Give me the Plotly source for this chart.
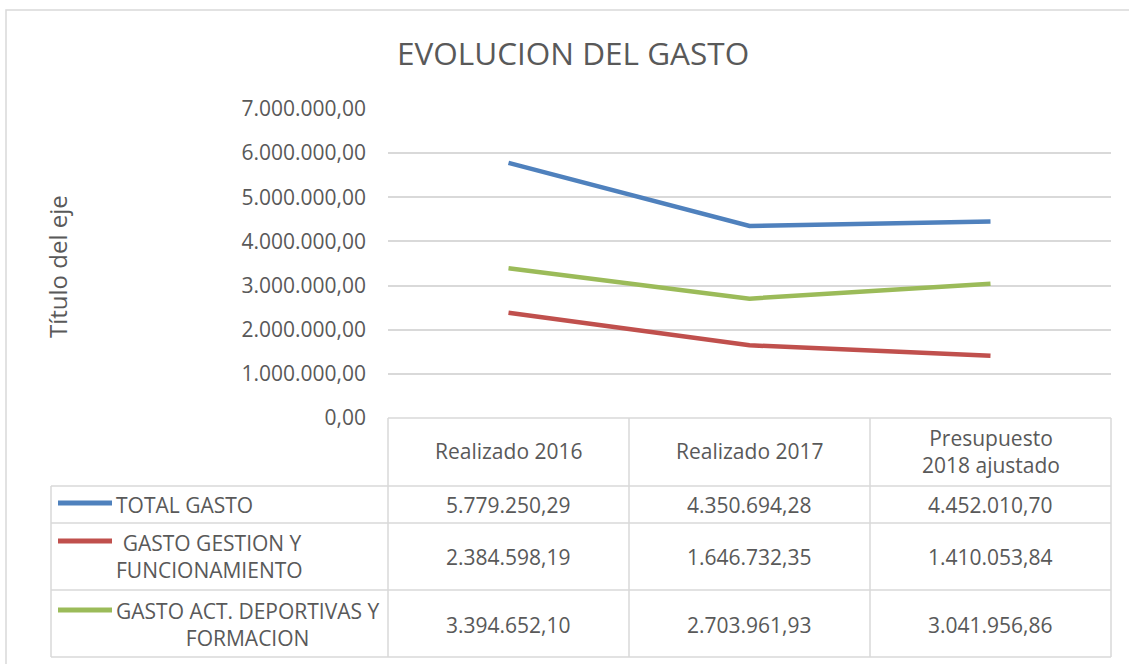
import plotly.graph_objects as go

# ---------------- data ----------------
categories = ["Realizado 2016", "Realizado 2017", "Presupuesto<br>2018 ajustado"]
series_names = ["TOTAL GASTO", " GASTO GESTION Y<br>FUNCIONAMIENTO", "GASTO ACT. DEPORTIVAS Y<br>FORMACION"]
total_gasto = [5779250.29, 4350694.28, 4452010.70]
gasto_gestion = [2384598.19, 1646732.35, 1410053.84]
gasto_deportivas = [3394652.10, 2703961.93, 3041956.86]
series_values = [total_gasto, gasto_gestion, gasto_deportivas]
series_colors = ["#4F81BD", "#C0504D", "#9BBB59"]
y_ticks = [0, 1000000, 2000000, 3000000, 4000000, 5000000, 6000000, 7000000]

# ---------------- helpers ----------------
W, H = 1129, 664
FONT = "Open Sans"
TXT = "#595959"
GRID = "#D9D9D9"


def X(px):
    return px / W


def Y(py):
    return 1 - py / H


def fmt(v):
    s = f"{v:,.2f}"
    return s.replace(",", "X").replace(".", ",").replace("X", ".")


# plot area geometry (pixels)
PL, PR = 388, 1111
PT, PB = 109, 418
col_edges = [388, 629, 870, 1111]
row_edges = [486, 523, 590, 657]
legend_left = 51

fig = go.Figure()
xpos = list(range(len(categories)))
for name, vals, col in zip(series_names, series_values, series_colors):
    fig.add_trace(go.Scatter(
        x=xpos, y=vals, mode="lines", name=name.replace("<br>", " "),
        line=dict(color=col, width=4.5), showlegend=False, hoverinfo="skip"))

shapes = []
annotations = []

# outer chart border
shapes.append(dict(type="rect", xref="paper", yref="paper",
                   x0=X(6), x1=X(1140), y0=Y(675), y1=Y(10),
                   line=dict(color=GRID, width=1.5), fillcolor="rgba(0,0,0,0)", layer="below"))

# table grid
line_style = dict(color=GRID, width=1.5)
for cx in col_edges:
    shapes.append(dict(type="line", xref="paper", yref="paper",
                       x0=X(cx), x1=X(cx), y0=Y(PB), y1=Y(row_edges[-1]), line=line_style))
shapes.append(dict(type="line", xref="paper", yref="paper",
                   x0=X(legend_left), x1=X(legend_left), y0=Y(row_edges[0]), y1=Y(row_edges[-1]),
                   line=line_style))
shapes.append(dict(type="line", xref="paper", yref="paper",
                   x0=X(PL), x1=X(PR), y0=Y(PB), y1=Y(PB), line=line_style))
for ry in row_edges:
    shapes.append(dict(type="line", xref="paper", yref="paper",
                       x0=X(legend_left), x1=X(PR), y0=Y(ry), y1=Y(ry), line=line_style))

# header labels
col_centers = [(col_edges[i] + col_edges[i + 1]) / 2 for i in range(3)]
for cx, cat in zip(col_centers, categories):
    annotations.append(dict(xref="paper", yref="paper", x=X(cx), y=Y((PB + row_edges[0]) / 2 - 1),
                            text=cat, showarrow=False, xanchor="center", yanchor="middle",
                            align="center", font=dict(family=FONT, size=21, color=TXT)))

# rows: legend swatch, label, values
row_centers = [(row_edges[i] + row_edges[i + 1]) / 2 for i in range(3)]
row_offsets = [0, 0, 1]
swatch_y = [503, 541, 610]
for i, (name, vals, col) in enumerate(zip(series_names, series_values, series_colors)):
    shapes.append(dict(type="line", xref="paper", yref="paper",
                       x0=X(58), x1=X(112), y0=Y(swatch_y[i]), y1=Y(swatch_y[i]),
                       line=dict(color=col, width=5)))
    annotations.append(dict(xref="paper", yref="paper", x=X(114), y=Y(row_centers[i] + row_offsets[i]),
                            text=name, showarrow=False, xanchor="left", yanchor="middle",
                            align="center", font=dict(family=FONT, size=21, color=TXT)))
    for cx, v in zip(col_centers, vals):
        annotations.append(dict(xref="paper", yref="paper", x=X(cx), y=Y(row_centers[i] + row_offsets[i]),
                                text=fmt(v), showarrow=False, xanchor="center", yanchor="middle",
                                font=dict(family=FONT, size=21, color=TXT)))

# title
annotations.append(dict(xref="paper", yref="paper", x=X(573), y=Y(53),
                        text="EVOLUCION DEL GASTO", showarrow=False, xanchor="center",
                        yanchor="middle", font=dict(family=FONT, size=31.5, color=TXT)))
# y axis title
annotations.append(dict(xref="paper", yref="paper", x=X(57), y=Y(267),
                        text="Título del eje", showarrow=False, xanchor="center",
                        yanchor="middle", textangle=-90,
                        font=dict(family=FONT, size=24, color=TXT)))

fig.update_layout(
    width=W, height=H,
    margin=dict(l=0, r=0, t=0, b=0, pad=0, autoexpand=False),
    paper_bgcolor="white", plot_bgcolor="white",
    separators=",.",
    shapes=shapes, annotations=annotations,
    xaxis=dict(domain=[X(PL), X(PR)], range=[-0.5, 2.5], showticklabels=False,
               showgrid=False, zeroline=False, showline=False, fixedrange=True,
               automargin=False),
    yaxis=dict(domain=[Y(PB), Y(PT)], range=[0, 7000000], tickvals=y_ticks,
               tickformat=",.2f", showgrid=True, gridcolor=GRID, gridwidth=1.5,
               zeroline=False, showline=False, ticks="", ticklabelstandoff=21,
               automargin=False,
               tickfont=dict(family=FONT, size=21, color=TXT), fixedrange=True),
)

fig.write_html("out.html", config={"displayModeBar": False},
               post_script="document.body.style.margin='0px';")
